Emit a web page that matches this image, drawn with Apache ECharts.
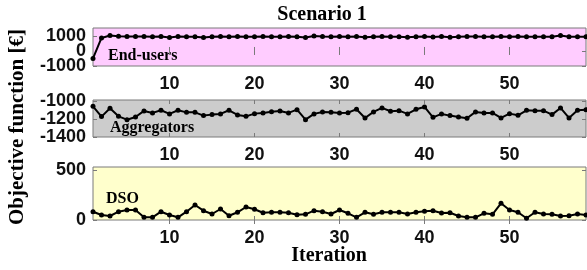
<!DOCTYPE html>
<html>
<head>
<meta charset="utf-8">
<script src="https://cdn.jsdelivr.net/npm/echarts@6/dist/echarts.min.js"></script>
<style>
  html, body { margin: 0; padding: 0; background: #fff; }
  #chart { width: 587px; height: 270px; }
</style>
</head>
<body>
<div id="chart"></div>
<script>
// values
const endUsers = [-500, 870, 1030, 980, 960, 970, 960, 950, 960, 900,
  960, 950, 950, 890, 950, 960, 950, 960, 950, 940,
  960, 950, 950, 960, 950, 900, 1000, 960, 950, 960,
  950, 960, 910, 950, 960, 950, 950, 920, 950, 960,
  930, 960, 910, 950, 960, 960, 950, 950, 960, 950,
  960, 950, 950, 940, 950, 1030, 950, 950, 950];
const aggregators = [-1060, -1174, -1082, -1171, -1208, -1178, -1111, -1133, -1104, -1144,
  -1104, -1127, -1127, -1163, -1152, -1144, -1104, -1155, -1171, -1141,
  -1133, -1119, -1111, -1133, -1097, -1208, -1144, -1122, -1125, -1133,
  -1130, -1093, -1189, -1122, -1078, -1115, -1108, -1144, -1093, -1067,
  -1182, -1144, -1163, -1178, -1193, -1122, -1133, -1133, -1189, -1141,
  -1160, -1104, -1108, -1108, -1152, -1078, -1189, -1104, -1097];
const dso = [83, 50, 40, 83, 100, 100, 27, 27, 83, 50,
  27, 83, 150, 93, 60, 110, 43, 77, 130, 107,
  73, 77, 77, 73, 52, 57, 93, 83, 60, 100,
  67, 27, 77, 57, 77, 77, 77, 60, 77, 87,
  93, 70, 73, 40, 27, 27, 67, 57, 167, 100,
  77, 17, 77, 60, 57, 40, 43, 60, 50];
const iterations = endUsers.map((v, i) => i + 1);
const xTicks = [10, 20, 30, 40, 50];
const yTicks1 = [-1000, 0, 1000];
const yTicks2 = [-1400, -1200, -1000];
const yTicks3 = [0, 500];

const frame = '#7a7a7a';
const sans = 'Liberation Sans';
const serif = 'Liberation Serif';

const panels = [
  { top: 28, height: 38, bg: '#ffccff', min: -1000, max: 1530, ticks: yTicks1, data: endUsers },
  { top: 100, height: 37, bg: '#cccccc', min: -1400, max: -990, ticks: yTicks2, data: aggregators },
  { top: 167, height: 53, bg: '#ffffcc', min: 0, max: 530, ticks: yTicks3, data: dso }
];

const labelStyle = {
  color: '#111', fontFamily: sans, fontWeight: 'bold', fontSize: 18,
  hideOverlap: false, showMinLabel: true, showMaxLabel: true,
  formatter: v => String(v)
};

const grid = [], xAxis = [], yAxis = [], series = [];
panels.forEach((p, k) => {
  grid.push({
    left: 93, right: 1, top: p.top, height: p.height,
    show: true, backgroundColor: p.bg, borderColor: frame, borderWidth: 1
  });
  const tick = { show: true, inside: true, length: 4, customValues: xTicks, lineStyle: { color: frame } };
  xAxis.push({
    type: 'value', gridIndex: k, min: 1, max: 59, position: 'bottom',
    axisLine: { show: false }, splitLine: { show: false },
    axisTick: tick,
    axisLabel: Object.assign({ customValues: xTicks, margin: 9 }, labelStyle)
  });
  xAxis.push({
    type: 'value', gridIndex: k, min: 1, max: 59, position: 'top',
    axisLine: { show: false }, splitLine: { show: false },
    axisTick: tick, axisLabel: { show: false }
  });
  const yt = { show: true, inside: true, length: 4, customValues: p.ticks, lineStyle: { color: frame } };
  yAxis.push({
    type: 'value', gridIndex: k, min: p.min, max: p.max, position: 'left',
    axisLine: { show: false }, splitLine: { show: false },
    axisTick: yt,
    axisLabel: Object.assign({ customValues: p.ticks, margin: 7 }, labelStyle)
  });
  yAxis.push({
    type: 'value', gridIndex: k, min: p.min, max: p.max, position: 'right',
    axisLine: { show: false }, splitLine: { show: false },
    axisTick: yt, axisLabel: { show: false }
  });
  series.push({
    type: 'line', xAxisIndex: 2 * k, yAxisIndex: 2 * k,
    data: p.data.map((v, i) => [iterations[i], v]),
    symbol: 'circle', symbolSize: 5, showSymbol: true,
    lineStyle: { color: '#000', width: 2 },
    itemStyle: { color: '#000' },
    animation: false, silent: true
  });
});

const txt = (x, y, text, size, align, rotation) => ({
  type: 'text', x: x, y: y, rotation: rotation || 0,
  style: { text: text, fill: '#000', font: 'bold ' + size + 'px "' + serif + '"', textAlign: align || 'left', textVerticalAlign: 'middle' }
});

const chart = echarts.init(document.getElementById('chart'));
chart.setOption({
  animation: false,
  grid: grid,
  xAxis: xAxis,
  yAxis: yAxis,
  series: series
});

// the crowded "0" label of the first panel is hidden by ECharts, so put it back at the axis' own 0
const zeroY = chart.convertToPixel({ yAxisIndex: 0 }, 0);
chart.setOption({
  graphic: [
    txt(322, 15, 'Scenario 1', 20, 'center'),
    txt(329, 256, 'Iteration', 20, 'center'),
    txt(18, 127, 'Objective function [€]', 21, 'center', Math.PI / 2),
    txt(108, 56, 'End-users', 16),
    txt(110, 128, 'Aggregators', 16),
    txt(106, 199, 'DSO', 16),
    {
      type: 'text', x: 86, y: zeroY,
      style: { text: '0', fill: '#111', font: 'bold 18px "' + sans + '"', textAlign: 'right', textVerticalAlign: 'middle' }
    }
  ]
});
window.addEventListener('resize', function () { chart.resize(); });
</script>
</body>
</html>
